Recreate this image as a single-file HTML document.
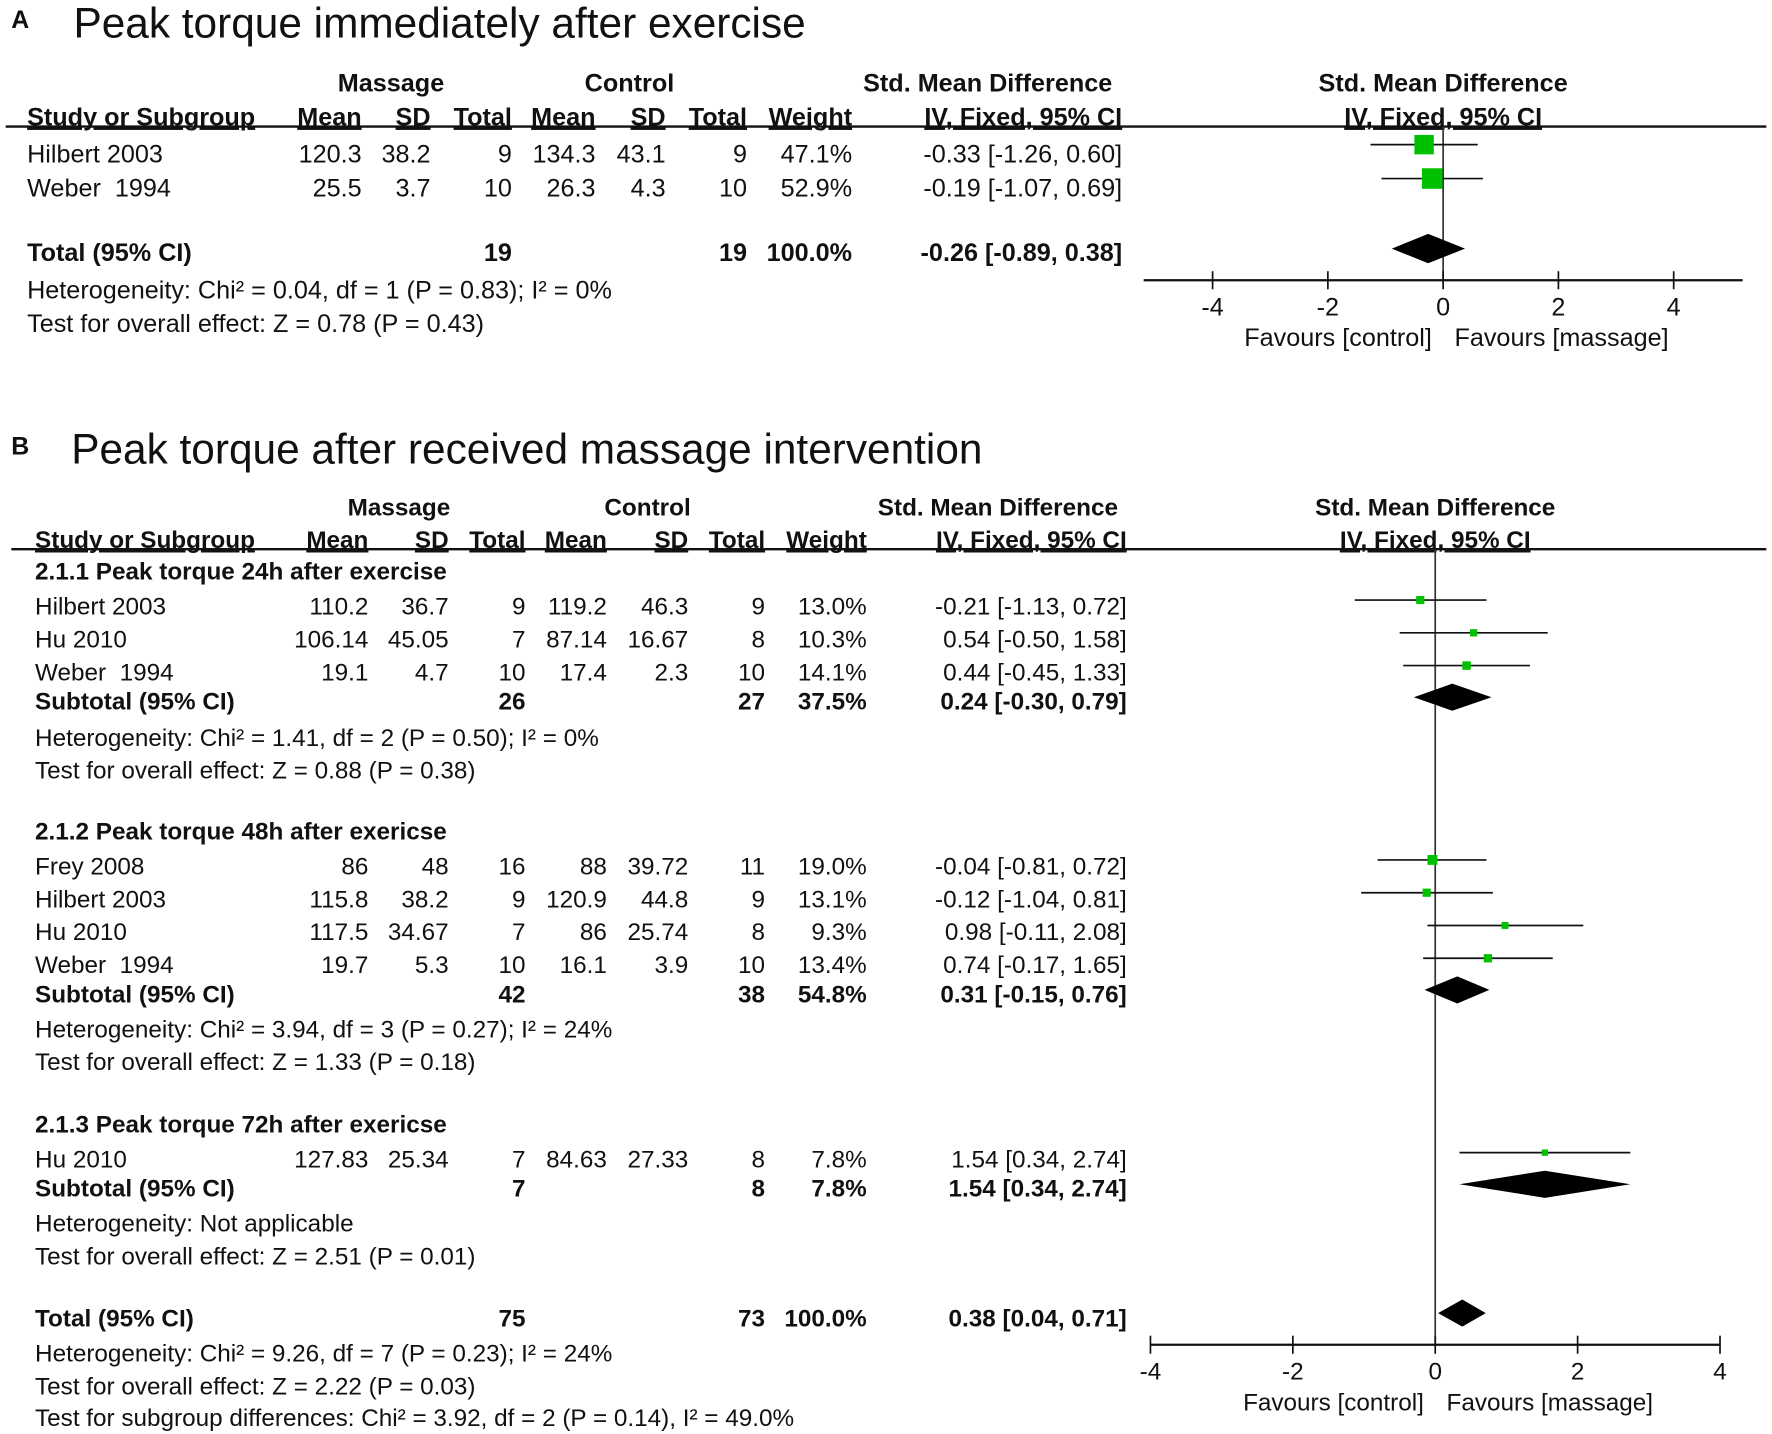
<!DOCTYPE html>
<html><head><meta charset="utf-8"><style>
html,body{margin:0;padding:0;background:#fff;}
svg{display:block;}
text{font-family:"Liberation Sans",Arial,sans-serif;fill:#111;}
</style></head><body>
<svg id="fig" width="1772" height="1434" viewBox="0 0 1568 1269" preserveAspectRatio="none" xmlns="http://www.w3.org/2000/svg"></svg>
<script>
// ---- Panel A data ----
const aStudies = ["Hilbert 2003", "Weber\u00a0 1994"];
const aMassMean = ["120.3", "25.5"];
const aMassSD = ["38.2", "3.7"];
const aMassN = ["9", "10"];
const aCtrlMean = ["134.3", "26.3"];
const aCtrlSD = ["43.1", "4.3"];
const aCtrlN = ["9", "10"];
const aWeight = [47.1, 52.9];
const aEst = [-0.33, -0.19];
const aLo = [-1.26, -1.07];
const aHi = [0.60, 0.69];
const aTotal = {est: -0.26, lo: -0.89, hi: 0.38};
const aTicks = [-4, -2, 0, 2, 4];

// ---- Panel B data ----
const bStudies = ["Hilbert 2003", "Hu 2010", "Weber\u00a0 1994", "Frey 2008", "Hilbert 2003", "Hu 2010", "Weber\u00a0 1994", "Hu 2010"];
const bMassMean = ["110.2", "106.14", "19.1", "86", "115.8", "117.5", "19.7", "127.83"];
const bMassSD = ["36.7", "45.05", "4.7", "48", "38.2", "34.67", "5.3", "25.34"];
const bMassN = ["9", "7", "10", "16", "9", "7", "10", "7"];
const bCtrlMean = ["119.2", "87.14", "17.4", "88", "120.9", "86", "16.1", "84.63"];
const bCtrlSD = ["46.3", "16.67", "2.3", "39.72", "44.8", "25.74", "3.9", "27.33"];
const bCtrlN = ["9", "8", "10", "11", "9", "8", "10", "8"];
const bWeight = [13.0, 10.3, 14.1, 19.0, 13.1, 9.3, 13.4, 7.8];
const bEst = [-0.21, 0.54, 0.44, -0.04, -0.12, 0.98, 0.74, 1.54];
const bLo = [-1.13, -0.50, -0.45, -0.81, -1.04, -0.11, -0.17, 0.34];
const bHi = [0.72, 1.58, 1.33, 0.72, 0.81, 2.08, 1.65, 2.74];
const bSubEst = [0.24, 0.31, 1.54, 0.38];
const bSubLo = [-0.30, -0.15, 0.34, 0.04];
const bSubHi = [0.79, 0.76, 2.74, 0.71];
const bTicks = [-4, -2, 0, 2, 4];

const NS = "http://www.w3.org/2000/svg";
const svg = document.getElementById("fig");
function el(tag, attrs, parent) {
  const e = document.createElementNS(NS, tag);
  for (const k in attrs) e.setAttribute(k, attrs[k]);
  (parent || svg).appendChild(e);
  return e;
}
function txt(x, y, s, opt) {
  opt = opt || {};
  const t = el("text", {x: x, y: y, "font-size": opt.size || 20, "text-anchor": opt.anchor || "start",
    "font-weight": opt.bold ? "bold" : "normal"});
  if (opt.underline) t.setAttribute("text-decoration", "underline");
  if (opt.family) t.setAttribute("style", "font-family:" + opt.family);
  t.textContent = s;
  
  
  return t;
}
function fmt(v) { return v.toFixed(2); }
function ciStr(e, l, h) { return fmt(e) + " [" + fmt(l) + ", " + fmt(h) + "]"; }

function panel(cfg) {
  const xs = v => cfg.x0 + v * cfg.unit;
  const C = cfg.cols, fs = cfg.fs;
  txt(cfg.letterX, cfg.titleY - 8, cfg.letter, {size: 22, bold: true, name: "panel-letter"});
  txt(cfg.titleX, cfg.titleY, cfg.title, {size: 37.5, name: "panel-title"});
  txt(C.massC, cfg.h1, "Massage", {bold: true, anchor: "middle", size: fs, name: "header-massage"});
  txt(C.ctrlC, cfg.h1, "Control", {bold: true, anchor: "middle", size: fs, name: "header-control"});
  txt(C.smdC, cfg.h1, "Std. Mean Difference", {bold: true, anchor: "middle", size: fs, name: "header-smd"});
  txt(cfg.x0, cfg.h1, "Std. Mean Difference", {bold: true, anchor: "middle", size: fs, name: "header-plot-smd"});
  const h2 = cfg.h2;
  txt(cfg.labelX, h2, "Study or Subgroup", {bold: true, size: fs, underline: true, name: "header-study"});
  [["Mean", C.m1], ["SD", C.s1], ["Total", C.n1], ["Mean", C.m2], ["SD", C.s2], ["Total", C.n2], ["Weight", C.w], ["IV, Fixed, 95% CI", C.ci]]
    .forEach(p => txt(p[1], h2, p[0], {bold: true, anchor: "end", size: fs, underline: true, name: "header-col"}));
  txt(cfg.x0, h2, "IV, Fixed, 95% CI", {bold: true, anchor: "middle", size: fs, underline: true, name: "header-plot-ci"});
  const hl = el("line", {x1: cfg.lineX1, x2: cfg.lineX2, y1: cfg.hlineY, y2: cfg.hlineY, stroke: "#111", "stroke-width": 2});
  
  
  const z = el("line", {x1: xs(0), x2: xs(0), y1: cfg.hlineY, y2: cfg.axisY, stroke: "#333", "stroke-width": 1.5});
  
  
  const ax = el("line", {x1: cfg.axX1, x2: cfg.axX2, y1: cfg.axisY, y2: cfg.axisY, stroke: "#111", "stroke-width": 2});
  
  
  cfg.ticks.forEach(t => {
    const tk = el("line", {x1: xs(t), x2: xs(t), y1: cfg.axisY - 8, y2: cfg.axisY + 8, stroke: "#111", "stroke-width": 1.5});
    
    
    txt(xs(t), cfg.axisY + 31, t < 0 ? "-" + Math.abs(t) : String(t), {anchor: "middle", size: fs, name: "x-tick-label"});
  });
  txt(xs(0) - 10, cfg.axisY + 58, "Favours [control]", {anchor: "end", size: fs, name: "favours-control"});
  txt(xs(0) + 10, cfg.axisY + 58, "Favours [massage]", {anchor: "start", size: fs, name: "favours-massage"});
  return xs;
}
function studyRow(cfg, xs, y, d) {
  const C = cfg.cols, fs = cfg.fs;
  txt(cfg.labelX, y, d.name, {size: fs, name: "study-name"});
  [[d.m1, C.m1], [d.s1, C.s1], [d.n1, C.n1], [d.m2, C.m2], [d.s2, C.s2], [d.n2, C.n2], [d.w.toFixed(1) + "%", C.w], [ciStr(d.e, d.l, d.h), C.ci]]
    .forEach(p => txt(p[1], y, p[0], {anchor: "end", size: fs, name: "study-value"}));
  const my = y - cfg.markOff;
  const ci = el("line", {x1: xs(d.l), x2: xs(d.h), y1: my, y2: my, stroke: "#111", "stroke-width": 1.5});
  
  
  const s = cfg.sq * Math.sqrt(d.w);
  const sq = el("rect", {x: xs(d.e) - s / 2, y: my - s / 2, width: s, height: s, fill: "#00c000"});
  
  
}
function diamond(cfg, xs, y, e, l, h, hh) {
  const d = el("polygon", {points: [xs(l) + "," + y, xs(e) + "," + (y - hh), xs(h) + "," + y, xs(e) + "," + (y + hh)].join(" "), fill: "#000"});
  
  
}
function totalRow(cfg, y, label, n1, n2, w, e, l, h) {
  const C = cfg.cols, fs = cfg.fs;
  txt(cfg.labelX, y, label, {size: fs, bold: true, name: "total-label"});
  txt(C.n1, y, n1, {anchor: "end", size: fs, bold: true, name: "total-n"});
  txt(C.n2, y, n2, {anchor: "end", size: fs, bold: true, name: "total-n"});
  txt(C.w, y, w, {anchor: "end", size: fs, bold: true, name: "total-weight"});
  txt(C.ci, y, ciStr(e, l, h), {anchor: "end", size: fs, bold: true, name: "total-ci"});
}

// ---------- Panel A ----------
const cfgA = {letter: "A", letterX: 10, titleX: 65, titleY: 33, title: "Peak torque immediately after exercise",
  h1: 81, h2: 111, hlineY: 112, lineX1: 5, lineX2: 1563, labelX: 24, fs: 22.3,
  cols: {massC: 346, ctrlC: 557, smdC: 874, m1: 320, s1: 381, n1: 453, m2: 527, s2: 589, n2: 661, w: 754, ci: 993},
  x0: 1277, unit: 51, axisY: 248, axX1: 1012, axX2: 1542, ticks: aTicks, markOff: 16, sq: 2.5};
const xA = panel(cfgA);
const aRowY = [144, 174];
aStudies.forEach((n, i) => studyRow(cfgA, xA, aRowY[i], {name: n, m1: aMassMean[i], s1: aMassSD[i], n1: aMassN[i], m2: aCtrlMean[i], s2: aCtrlSD[i], n2: aCtrlN[i], w: aWeight[i], e: aEst[i], l: aLo[i], h: aHi[i]}));
totalRow(cfgA, 231, "Total (95% CI)", "19", "19", "100.0%", aTotal.est, aTotal.lo, aTotal.hi);
diamond(cfgA, xA, 220, aTotal.est, aTotal.lo, aTotal.hi, 13);
txt(24, 264, "Heterogeneity: Chi\u00b2 = 0.04, df = 1 (P = 0.83); I\u00b2 = 0%", {size: 22.3, name: "heterogeneity-text"});
txt(24, 294, "Test for overall effect: Z = 0.78 (P = 0.43)", {size: 22.3, name: "overall-effect-text"});

// ---------- Panel B ----------
const cfgB = {letter: "B", letterX: 10, titleX: 63, titleY: 410, title: "Peak torque after received massage intervention",
  h1: 456, h2: 485, hlineY: 486, lineX1: 10, lineX2: 1563, labelX: 31, fs: 21.5,
  cols: {massC: 353, ctrlC: 573, smdC: 883, m1: 326, s1: 397, n1: 465, m2: 537, s2: 609, n2: 677, w: 767, ci: 997},
  x0: 1270, unit: 63, axisY: 1190, axX1: 1018, axX2: 1522, ticks: bTicks, markOff: 13, sq: 2.0};
const xB = panel(cfgB);
const bRowY = [544, 573, 602, 774, 803, 832, 861, 1033];
bStudies.forEach((n, i) => studyRow(cfgB, xB, bRowY[i], {name: n, m1: bMassMean[i], s1: bMassSD[i], n1: bMassN[i], m2: bCtrlMean[i], s2: bCtrlSD[i], n2: bCtrlN[i], w: bWeight[i], e: bEst[i], l: bLo[i], h: bHi[i]}));
txt(31, 513, "2.1.1 Peak torque 24h after exercise", {size: 21.5, bold: true, name: "subgroup-heading"});
txt(31, 743, "2.1.2 Peak torque 48h after exericse", {size: 21.5, bold: true, name: "subgroup-heading"});
txt(31, 1002, "2.1.3 Peak torque 72h after exericse", {size: 21.5, bold: true, name: "subgroup-heading"});
const subY = [628, 887, 1059];
const subN1 = ["26", "42", "7"], subN2 = ["27", "38", "8"], subW = ["37.5%", "54.8%", "7.8%"];
for (let i = 0; i < 3; i++) {
  totalRow(cfgB, subY[i], "Subtotal (95% CI)", subN1[i], subN2[i], subW[i], bSubEst[i], bSubLo[i], bSubHi[i]);
  diamond(cfgB, xB, subY[i] - 11, bSubEst[i], bSubLo[i], bSubHi[i], 12);
}
totalRow(cfgB, 1174, "Total (95% CI)", "75", "73", "100.0%", bSubEst[3], bSubLo[3], bSubHi[3]);
diamond(cfgB, xB, 1162, bSubEst[3], bSubLo[3], bSubHi[3], 12);
const notes = [
  [660, "Heterogeneity: Chi\u00b2 = 1.41, df = 2 (P = 0.50); I\u00b2 = 0%"],
  [689, "Test for overall effect: Z = 0.88 (P = 0.38)"],
  [918, "Heterogeneity: Chi\u00b2 = 3.94, df = 3 (P = 0.27); I\u00b2 = 24%"],
  [947, "Test for overall effect: Z = 1.33 (P = 0.18)"],
  [1090, "Heterogeneity: Not applicable"],
  [1119, "Test for overall effect: Z = 2.51 (P = 0.01)"],
  [1205, "Heterogeneity: Chi\u00b2 = 9.26, df = 7 (P = 0.23); I\u00b2 = 24%"],
  [1234, "Test for overall effect: Z = 2.22 (P = 0.03)"],
  [1262, "Test for subgroup differences: Chi\u00b2 = 3.92, df = 2 (P = 0.14), I\u00b2 = 49.0%"]
];
notes.forEach(n => txt(31, n[0], n[1], {size: 21.5, name: "note-text"}));
</script>
</body></html>
